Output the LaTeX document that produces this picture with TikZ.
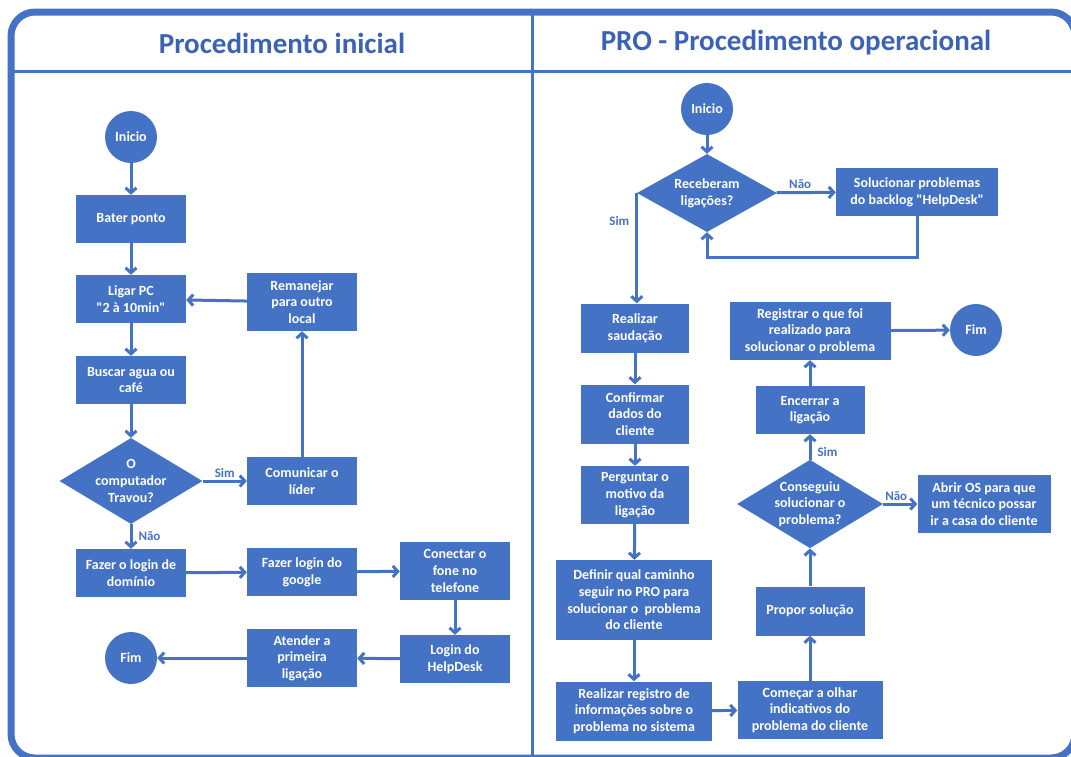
\documentclass[tikz,border=0pt]{standalone}
\usepackage{fontspec}
\setmainfont{Carlito}[Ligatures=TeXOff]
\usepackage{tikz}
\usetikzlibrary{arrows.meta,shapes.geometric}
\definecolor{flowblue}{HTML}{4472C4}
\definecolor{titleblue}{HTML}{3B62B4}
\def\flowfont{\fontsize{14}{16.7}\selectfont\bfseries}
\def\answerfont{\fontsize{13}{15}\selectfont\bfseries}
\def\titlefont{\fontsize{29}{33}\selectfont\bfseries}
\tikzset{
	box/.style={rectangle, fill=flowblue, text=white, font=\flowfont, align=center, inner sep=1pt, minimum width=110pt, minimum height=48pt},
	decision/.style={diamond, fill=flowblue, text=white, font=\flowfont, align=center, inner sep=0pt, aspect=1.65, minimum width=143pt, minimum height=86pt},
	terminal/.style={circle, fill=flowblue, text=white, font=\flowfont, minimum size=52pt, inner sep=0pt},
	flow/.style={draw=flowblue, line width=3pt, -{Straight Barb[length=5pt,width=11pt]}},
	answer/.style={text=flowblue, font=\answerfont, inner sep=2pt},
	heading/.style={text=titleblue, font=\titlefont}
}

\begin{document}
\begin{tikzpicture}[x=1pt, y=-1pt]
		%%%%% START %%%%%
		\useasboundingbox (0, 0) rectangle (1071, 756);
		
		\draw[flowblue, line width=7pt, rounded corners=24pt] (11, 12) rectangle (1075, 758);
		\draw[flowblue, line width=3pt] (14, 71) -- (1071, 71);
		\draw[flowblue, line width=3pt] (532, 14) -- (532, 756);
		
		\node[heading] (titulo1) at (282, 43) {Procedimento inicial};
		\node[heading] (titulo2) at (796, 43) {PRO - Procedimento operacional};
		
		%%%%% Procedimento inicial %%%%%
		\node[terminal] (ini1) at (131, 137) {Inicio};
		\node[box] (bater) at (131, 219) {Bater ponto};
		\node[box] (ligar) at (131, 299) {Ligar PC\\"2 à 10min"};
		\node[box, minimum height=58pt] (remanejar) at (302, 302) {Remanejar\\para outro\\local};
		\node[box] (buscar) at (131, 380) {Buscar agua ou\\café};
		\node[decision] (travou) at (131, 481) {O\\computador\\Travou?};
		\node[box] (comunicar) at (302, 481) {Comunicar o\\líder};
		\node[box] (dominio) at (131, 573) {Fazer o login de\\domínio};
		\node[box] (google) at (302, 572) {Fazer login do\\google};
		\node[box, minimum height=58pt] (conectar) at (455, 571) {Conectar o\\fone no\\telefone};
		\node[box] (helpdesk) at (455, 659) {Login do\\HelpDesk};
		\node[box, minimum height=58pt] (atender) at (302, 658) {Atender a\\primeira\\ligação};
		\node[terminal] (fim1) at (131, 658) {Fim};
		
		\draw[flow] (ini1) -- (bater);
		\draw[flow] (bater) -- (ligar);
		\draw[flow] (ligar) -- (buscar);
		\draw[flow] (buscar) -- (travou);
		\draw[flow] (travou) -- node[answer, above] {Sim} (comunicar);
		\draw[flow] (comunicar) -- (remanejar);
		\draw[flow] (remanejar) -- (ligar);
		\draw[flow] (travou) -- node[answer, right, xshift=4pt] {Não} (dominio);
		\draw[flow] (dominio) -- (google);
		\draw[flow] (google) -- (conectar);
		\draw[flow] (conectar) -- (helpdesk);
		\draw[flow] (helpdesk) -- (atender);
		\draw[flow] (atender) -- (fim1);
		
		%%%%% PRO - Procedimento operacional %%%%%
		\node[terminal] (ini2) at (707, 109) {Inicio};
		\node[decision, aspect=1.8, minimum width=140pt, minimum height=78pt] (receberam) at (707, 193) {Receberam\\ligações?};
		\node[box, minimum width=162pt] (backlog) at (917, 192) {Solucionar problemas\\do backlog "HelpDesk"};
		\node[box, minimum width=108pt, minimum height=49pt] (saudacao) at (635, 328) {Realizar\\saudação};
		\node[box, minimum width=108pt, minimum height=59pt] (confirmar) at (635, 414) {Confirmar\\dados do\\cliente};
		\node[box, minimum width=108pt, minimum height=58pt] (motivo) at (635, 495) {Perguntar o\\motivo da\\ligação};
		\node[box, minimum width=156pt, minimum height=80pt] (definir) at (634, 600) {Definir qual caminho\\seguir no PRO para\\solucionar o~~problema\\do cliente};
		\node[box, minimum width=156pt, minimum height=59pt] (registro) at (634, 711) {Realizar registro de\\informações sobre o\\problema no sistema};
		\node[box, minimum width=145pt, minimum height=58pt] (comecar) at (810, 710) {Começar a olhar\\indicativos do\\problema do cliente};
		\node[box, minimum width=109pt, minimum height=49pt] (propor) at (810, 611) {Propor solução};
		\node[decision, minimum height=87pt] (conseguiu) at (810, 504) {Conseguiu\\solucionar o\\problema?};
		\node[box, minimum width=109pt] (encerrar) at (810, 410) {Encerrar a\\ligação};
		\node[box, minimum width=161pt, minimum height=58pt] (registrar) at (810, 331) {Registrar o que foi\\realizado para\\solucionar o problema};
		\node[terminal] (fim2) at (976, 330) {Fim};
		\node[box, minimum width=133pt, minimum height=58pt] (abrir) at (984, 504) {Abrir OS para que\\um técnico possar\\ir a casa do cliente};
		
		\draw[flow] (ini2) -- (receberam);
		\draw[flow] (receberam) -- node[answer, above, xshift=-6pt] {Não} (backlog);
		\draw[flow] (backlog.south) -- ++(0, 41) -| (receberam.south);
		\draw[flow] (receberam.west) -- node[answer, left, pos=0.25, xshift=-4pt] {Sim} (receberam.west |- saudacao.north);
		\draw[flow] (saudacao) -- (confirmar);
		\draw[flow] (confirmar) -- (motivo);
		\draw[flow] (motivo) -- (definir);
		\draw[flow] (definir) -- (registro);
		\draw[flow] (registro) -- (comecar);
		\draw[flow] (comecar) -- (propor);
		\draw[flow] (propor) -- (conseguiu);
		\draw[flow] (conseguiu) -- node[answer, right, xshift=4pt, pos=0.3] {Sim} (encerrar);
		\draw[flow] (conseguiu) -- node[answer, above, xshift=-4pt] {Não} (abrir);
		\draw[flow] (encerrar) -- (registrar);
		\draw[flow] (registrar) -- (fim2);
		%%%%% END %%%%%
\end{tikzpicture}
\end{document}
